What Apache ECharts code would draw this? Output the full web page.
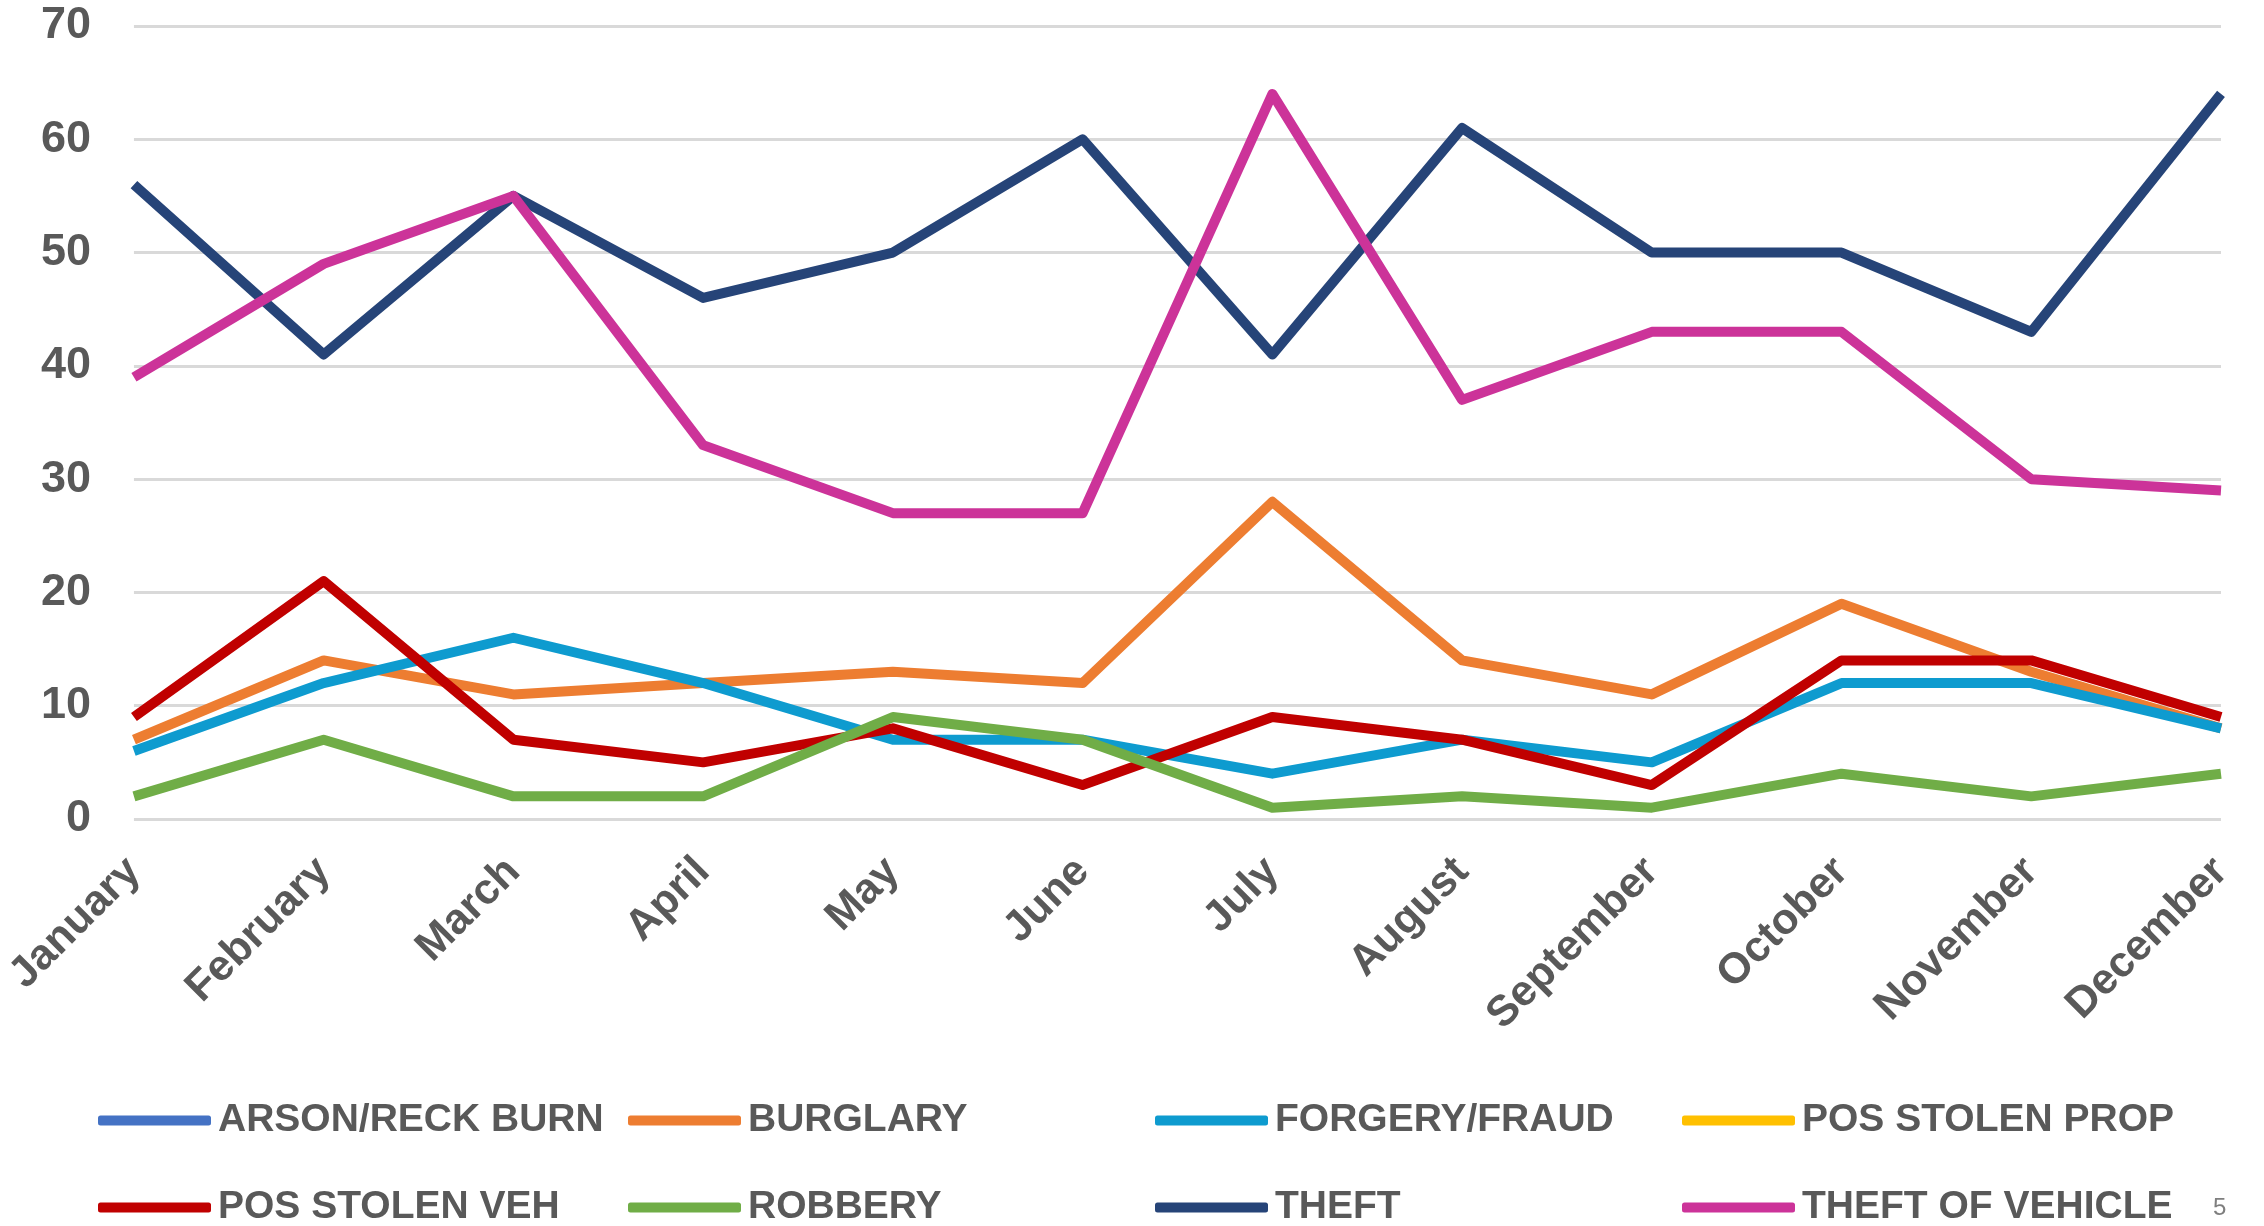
<!DOCTYPE html>
<html>
<head>
<meta charset="utf-8">
<title>Monthly offenses</title>
<script src="https://cdn.jsdelivr.net/npm/echarts@6/dist/echarts.min.js"></script>
<style>
  html, body { margin: 0; padding: 0; background: #fff; }
  #chart { width: 2264px; height: 1226px; }
</style>
</head>
<body>
<div id="chart"></div>
<script>
  // months on the x axis
  var months = ['January', 'February', 'March', 'April', 'May', 'June', 'July',
    'August', 'September', 'October', 'November', 'December'];

  // counts per month
  var arsonReckBurn = [];
  var burglary = [7, 14, 11, 12, 13, 12, 28, 14, 11, 19, 13, 8];
  var forgeryFraud = [6, 12, 16, 12, 7, 7, 4, 7, 5, 12, 12, 8];
  var posStolenProp = [];
  var posStolenVeh = [9, 21, 7, 5, 8, 3, 9, 7, 3, 14, 14, 9];
  var robbery = [2, 7, 2, 2, 9, 7, 1, 2, 1, 4, 2, 4];
  var theft = [56, 41, 55, 46, 50, 60, 41, 61, 50, 50, 43, 64];
  var theftOfVehicle = [39, 49, 55, 33, 27, 27, 64, 37, 43, 43, 30, 29];

  var seriesNames = ['ARSON/RECK BURN', 'BURGLARY', 'FORGERY/FRAUD', 'POS STOLEN PROP',
    'POS STOLEN VEH', 'ROBBERY', 'THEFT', 'THEFT OF VEHICLE'];
  var seriesData = [arsonReckBurn, burglary, forgeryFraud, posStolenProp,
    posStolenVeh, robbery, theft, theftOfVehicle];
  var colors = ['#4472C4', '#ED7D31', '#0E9BCF', '#FFC000',
    '#C00000', '#70AD47', '#264478', '#CC3399'];

  var font = 'Liberation Sans, Arial, sans-serif';
  var textGray = '#595959';

  // legend: 4 columns x 2 rows, one legend per entry
  var legendLeft = [98, 628, 1155, 1682];
  var legendTop = [1101, 1188];
  var legends = [];
  for (var i = 0; i < seriesNames.length; i++) {
    legends.push({
      data: [seriesNames[i]],
      left: legendLeft[i % 4],
      top: legendTop[Math.floor(i / 4)],
      icon: 'roundRect',
      itemWidth: 113,
      itemHeight: 10,
      padding: 0,
      textStyle: {
        color: textGray,
        fontFamily: font,
        fontWeight: 'bold',
        fontSize: 39,
        padding: [0, 0, 0, 2]
      }
    });
  }

  var series = [];
  for (var k = 0; k < seriesNames.length; k++) {
    series.push({
      name: seriesNames[k],
      type: 'line',
      data: seriesData[k],
      symbol: 'none',
      color: colors[k],
      lineStyle: { width: 10, color: colors[k], join: 'round' },
      emphasis: { disabled: true }
    });
  }

  var chart = echarts.init(document.getElementById('chart'));
  chart.setOption({
    animation: false,
    backgroundColor: '#fff',
    grid: { left: 130, right: 43, top: 26, bottom: 407 },
    legend: legends,
    xAxis: {
      type: 'category',
      data: months,
      boundaryGap: false,
      axisLine: { show: false },
      axisTick: { show: false },
      axisLabel: {
        rotate: 45,
        margin: 46,
        color: textGray,
        fontFamily: font,
        fontWeight: 'bold',
        fontSize: 43
      }
    },
    yAxis: {
      type: 'value',
      min: 0,
      max: 70,
      interval: 10,
      axisLine: { show: false },
      axisTick: { show: false },
      splitLine: { lineStyle: { color: '#D9D9D9', width: 3 } },
      axisLabel: {
        margin: 43,
        color: textGray,
        fontFamily: font,
        fontWeight: 'bold',
        fontSize: 45
      }
    },
    graphic: [{
      type: 'text',
      left: 2213,
      top: 1196,
      style: { text: '5', fill: '#7F7F7F', font: '24px ' + font }
    }],
    series: series
  });
</script>
</body>
</html>
